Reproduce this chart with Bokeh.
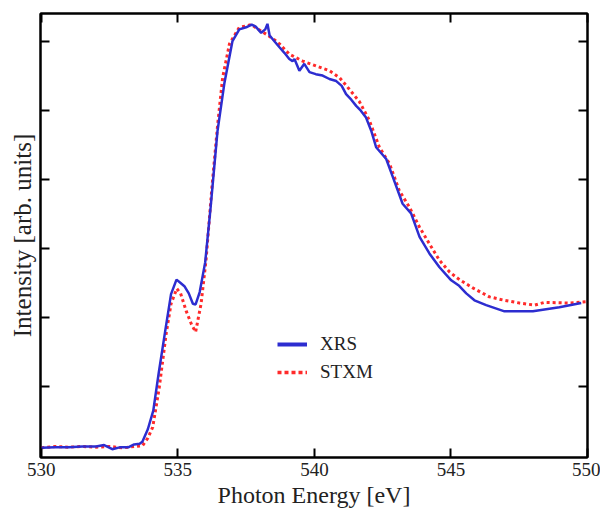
from bokeh.plotting import figure
from bokeh.models import LinearAxis, FixedTicker, Range1d, Legend, LegendItem
from bokeh.embed import file_html
from bokeh.resources import INLINE

# XRS (blue solid)
energy_xrs = [530.0, 530.5, 531.0, 531.5, 532.0, 532.3, 532.6, 532.9, 533.2, 533.4, 533.6,
              533.7, 533.9, 534.1, 534.3, 534.55, 534.75, 534.95, 535.1, 535.25, 535.4,
              535.55, 535.65, 535.8, 536.0, 536.2, 536.45, 536.7, 537.0, 537.25, 537.5,
              537.7, 537.85, 538.05, 538.2, 538.28, 538.36, 538.55, 538.72, 538.9, 539.08,
              539.2, 539.27, 539.45, 539.63, 539.82, 540.05, 540.3, 540.55, 540.8, 541.0,
              541.16, 541.35, 541.53, 541.7, 541.89, 542.08, 542.26, 542.63, 542.87, 543.23,
              543.54, 543.85, 544.21, 544.58, 545.01, 545.3, 545.56, 545.86, 546.29, 546.96,
              548.0, 548.97, 549.77]
intensity_xrs = [0.11, 0.12, 0.12, 0.13, 0.13, 0.15, 0.09, 0.12, 0.12, 0.16, 0.17,
                 0.20, 0.38, 0.65, 1.20, 1.84, 2.34, 2.55, 2.50, 2.45, 2.35,
                 2.20, 2.19, 2.37, 2.80, 3.60, 4.70, 5.39, 6.01, 6.18, 6.21,
                 6.25, 6.22, 6.13, 6.18, 6.26, 6.09, 6.00, 5.92, 5.84, 5.75,
                 5.72, 5.75, 5.58, 5.68, 5.56, 5.53, 5.51, 5.46, 5.43, 5.36,
                 5.24, 5.16, 5.07, 5.00, 4.90, 4.71, 4.47, 4.30, 4.04, 3.65,
                 3.51, 3.17, 2.93, 2.73, 2.54, 2.46, 2.35, 2.25, 2.18, 2.09,
                 2.09, 2.15, 2.21]

# STXM (red dotted)
energy_stxm = [530.0, 530.5, 531.0, 531.5, 532.0, 532.5, 533.0, 533.4, 533.7, 533.9, 534.08,
               534.32, 534.57, 534.75, 534.96, 535.1, 535.3, 535.5, 535.65, 535.85, 536.03,
               536.25, 536.46, 536.64, 536.89, 537.25, 537.5, 537.68, 537.95, 538.23, 538.5,
               538.72, 539.08, 539.57, 540.06, 540.55, 540.92, 541.28, 541.65, 542.0, 542.38,
               542.75, 543.11, 543.48, 543.85, 544.21, 544.58, 544.95, 545.31, 545.8, 546.41,
               546.96, 547.51, 548.06, 548.42, 549.34, 550.0]
intensity_stxm = [0.11, 0.13, 0.12, 0.13, 0.12, 0.13, 0.11, 0.13, 0.14, 0.25, 0.41,
                  0.99, 1.76, 2.20, 2.42, 2.35, 2.10, 1.90, 1.79, 2.20, 2.83,
                  3.90, 4.81, 5.48, 5.97, 6.21, 6.23, 6.25, 6.18, 6.11, 6.04,
                  5.97, 5.82, 5.72, 5.65, 5.58, 5.48, 5.31, 5.13, 4.87, 4.47,
                  4.23, 3.84, 3.60, 3.31, 3.07, 2.83, 2.66, 2.55, 2.43, 2.30,
                  2.25, 2.21, 2.18, 2.22, 2.21, 2.23]

x_ticks = [530, 535, 540, 545, 550]
y_ticks = [1, 2, 3, 4, 5, 6]

FONT = "Times New Roman, Liberation Serif, DejaVu Serif, serif"
NAN = float("nan")

p = figure(width=600, height=512, output_backend="svg", toolbar_location=None,
           x_range=Range1d(529.97, 550.0), y_range=Range1d(-0.03, 6.41),
           min_border_left=40, min_border_right=13, min_border_top=13, min_border_bottom=55,
           x_axis_location=None, y_axis_location=None)
p.background_fill_color = "white"
p.border_fill_color = "white"
p.xgrid.visible = False
p.ygrid.visible = False
p.outline_line_color = "black"
p.outline_line_width = 2

def style_axis(ax, show_labels):
    ax.axis_line_color = "black"
    ax.axis_line_width = 2
    ax.major_tick_in = 9
    ax.major_tick_out = 0
    ax.major_tick_line_width = 2
    ax.minor_tick_line_color = None
    if not show_labels:
        ax.major_label_text_font_size = "0px"
        ax.major_label_text_color = None

bottom = LinearAxis(ticker=FixedTicker(ticks=x_ticks), axis_label="Photon Energy [eV]")
style_axis(bottom, True)
bottom.major_label_text_font = FONT
bottom.major_label_text_font_size = "19px"
bottom.major_label_text_color = "#222222"
bottom.major_label_standoff = 5
bottom.axis_label_text_font = FONT
bottom.axis_label_text_font_size = "24px"
bottom.axis_label_text_font_style = "normal"
bottom.axis_label_text_color = "#222222"
bottom.axis_label_standoff = 3
p.add_layout(bottom, "below")

top = LinearAxis(ticker=FixedTicker(ticks=x_ticks))
style_axis(top, False)
p.add_layout(top, "above")

left = LinearAxis(ticker=FixedTicker(ticks=y_ticks), axis_label="Intensity [arb. units]")
style_axis(left, False)
left.axis_label_text_font = FONT
left.axis_label_text_font_size = "25px"
left.axis_label_text_font_style = "normal"
left.axis_label_text_color = "#222222"
left.axis_label_standoff = 5
p.add_layout(left, "left")

right = LinearAxis(ticker=FixedTicker(ticks=y_ticks))
style_axis(right, False)
p.add_layout(right, "right")

p.line(energy_stxm, intensity_stxm, line_color="#ff2a2a", line_width=3, line_dash="3 3")
p.line(energy_xrs, intensity_xrs, line_color="#2d2dd0", line_width=2.5)

# legend samples (drawn thicker, as in the reference legend); NaN data draws nothing on the plot
leg_xrs = p.line([NAN], [NAN], line_color="#2d2dd0", line_width=4)
leg_stxm = p.line([NAN], [NAN], line_color="#ff2a2a", line_width=3.5, line_dash="4 3")

legend = Legend(items=[LegendItem(label="XRS", renderers=[leg_xrs]),
                       LegendItem(label="STXM", renderers=[leg_stxm])],
                location=(237, 74), border_line_color=None, background_fill_alpha=0,
                label_text_font=FONT, label_text_font_size="19px",
                label_text_color="#222222",
                glyph_width=30, glyph_height=20, label_height=20, spacing=6,
                label_standoff=13, padding=4, margin=0)
p.add_layout(legend)

open("out.html", "w").write(file_html(p, INLINE))
